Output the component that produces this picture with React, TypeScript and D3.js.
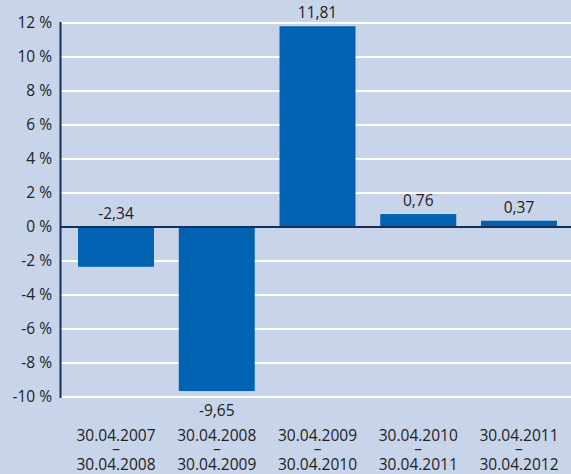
import React, { useEffect, useRef } from 'react';
import * as d3 from 'd3';

const periodsFrom = ['30.04.2007', '30.04.2008', '30.04.2009', '30.04.2010', '30.04.2011'];
const periodsTo = ['30.04.2008', '30.04.2009', '30.04.2010', '30.04.2011', '30.04.2012'];
const returns = [-2.34, -9.65, 11.81, 0.76, 0.37];
const yTicks = [-10, -8, -6, -4, -2, 0, 2, 4, 6, 8, 10, 12];

const App: React.FC = () => {
  const svgRef = useRef<SVGSVGElement | null>(null);

  useEffect(() => {
    if (!svgRef.current) return;
    const svg = d3.select(svgRef.current);
    svg.selectAll('*').remove();

    const width = 571;
    const height = 474;
    const font = '"Open Sans", sans-serif';
    const textColor = '#222222';
    const axisColor = '#142f5c';

    svg.append('rect')
      .attr('width', width)
      .attr('height', height)
      .attr('fill', '#c8d4ea');

    const y = d3.scaleLinear().domain([-10, 12]).range([397, 23]);
    const x = d3.scaleBand<number>()
      .domain(d3.range(returns.length))
      .range([61, 574])
      .paddingInner(0.246)
      .paddingOuter(0.169);

    // white gridlines
    svg.append('g')
      .selectAll('line')
      .data(yTicks.filter(t => t !== 0))
      .enter()
      .append('line')
      .attr('x1', 61)
      .attr('x2', width)
      .attr('y1', d => y(d))
      .attr('y2', d => y(d))
      .attr('stroke', '#ffffff')
      .attr('stroke-width', 2);

    // y tick labels
    svg.append('g')
      .selectAll('text')
      .data(yTicks)
      .enter()
      .append('text')
      .attr('x', 52)
      .attr('y', d => y(d))
      .attr('dy', '0.35em')
      .attr('text-anchor', 'end')
      .attr('font-family', font)
      .attr('font-size', 15.5)
      .attr('fill', textColor)
      .text(d => `${d} %`);

    // bars
    svg.append('g')
      .selectAll('rect')
      .data(returns)
      .enter()
      .append('rect')
      .attr('x', (_, i) => x(i) as number)
      .attr('width', x.bandwidth())
      .attr('y', d => y(Math.max(0, d)))
      .attr('height', d => Math.abs(y(d) - y(0)))
      .attr('fill', '#0062b0');

    // zero line and axis
    svg.append('line')
      .attr('x1', 61).attr('x2', width)
      .attr('y1', y(0)).attr('y2', y(0))
      .attr('stroke', axisColor)
      .attr('stroke-width', 2);
    svg.append('line')
      .attr('x1', 60.5).attr('x2', 60.5)
      .attr('y1', y(12) - 1).attr('y2', y(-10) + 1)
      .attr('stroke', axisColor)
      .attr('stroke-width', 2);

    // value labels
    svg.append('g')
      .selectAll('text')
      .data(returns)
      .enter()
      .append('text')
      .attr('x', (_, i) => (x(i) as number) + x.bandwidth() / 2)
      .attr('y', d => (d >= 0 ? y(d) - 8 : d > -5 ? y(0) - 8 : y(d) + 25))
      .attr('text-anchor', 'middle')
      .attr('font-family', font)
      .attr('font-size', 15.5)
      .attr('fill', textColor)
      .text(d => d.toFixed(2).replace('.', ','));

    // category labels
    const cats = svg.append('g')
      .selectAll('g')
      .data(periodsFrom)
      .enter()
      .append('g')
      .attr('transform', (_, i) => `translate(${(x(i) as number) + x.bandwidth() / 2},0)`);
    cats.append('text')
      .attr('y', 441)
      .attr('text-anchor', 'middle')
      .attr('font-family', font)
      .attr('font-size', 15.5)
      .attr('fill', textColor)
      .text(d => d);
    cats.append('text')
      .attr('y', 454)
      .attr('text-anchor', 'middle')
      .attr('font-family', font)
      .attr('font-size', 15.5)
      .attr('fill', textColor)
      .text('–');
    cats.append('text')
      .attr('y', 470)
      .attr('text-anchor', 'middle')
      .attr('font-family', font)
      .attr('font-size', 15.5)
      .attr('fill', textColor)
      .text((_, i) => periodsTo[i]);
  }, []);

  return (
    <svg
      ref={svgRef}
      width={571}
      height={474}
      style={{ position: 'absolute', left: 0, top: 0, display: 'block' }}
    />
  );
};

export default App;
